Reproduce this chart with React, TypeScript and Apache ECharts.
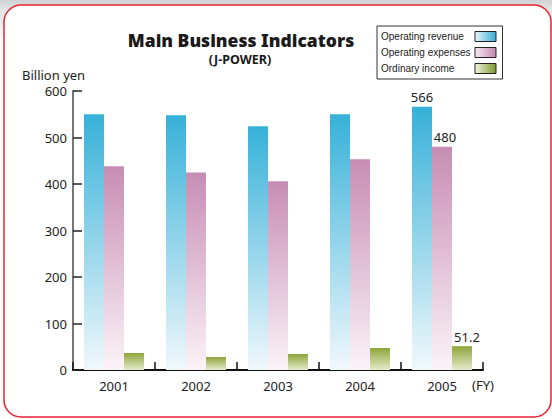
import React, { useEffect, useRef } from "react";
import * as echarts from "echarts";

const categories = ["2001", "2002", "2003", "2004", "2005"];
const seriesNames = ["Operating revenue", "Operating expenses", "Ordinary income"];
const operatingRevenue = [550, 548, 524, 550, 566];
const operatingExpenses = [438, 425, 406, 453, 480];
const ordinaryIncome = [36.6, 28.0, 34.4, 47.3, 51.2];
const yTicks = { min: 0, max: 600, interval: 100 };
const labelledIndex = 4;
const labelTexts = ["566", "480", "51.2"];

const FONT = "'Noto Sans', 'DejaVu Sans', sans-serif";
const LEGEND_FONT = "'Liberation Sans', Arial, sans-serif";

const vGrad = (top: string, bottom: string) =>
  new echarts.graphic.LinearGradient(0, 0, 0, 1, [
    { offset: 0, color: top },
    { offset: 1, color: bottom },
  ]);
const hGrad = (left: string, right: string) =>
  new echarts.graphic.LinearGradient(0, 0, 1, 0, [
    { offset: 0, color: left },
    { offset: 1, color: right },
  ]);

const barColors = [
  vGrad("#36b1d8", "#f1f8fc"),
  vGrad("#c78db4", "#fbf3f7"),
  vGrad("#8ea53a", "#e6ebcb"),
];
const swatchColors = [
  hGrad("#eaf6fb", "#35acd6"),
  hGrad("#f7ecf2", "#c286b0"),
  hGrad("#f2f4df", "#7b982c"),
];

export default function App() {
  const ref = useRef<HTMLDivElement>(null);
  useEffect(() => {
    if (!ref.current) return;
    const chart = echarts.init(ref.current, null, { renderer: "svg" });
    const values = [operatingRevenue, operatingExpenses, ordinaryIncome];
    chart.setOption({
      animation: false,
      backgroundColor: "transparent",
      graphic: [
        {
          type: "rect",
          z: -10,
          shape: { x: 4, y: 5, width: 547, height: 412, r: 17 },
          style: { fill: "#ffffff", stroke: "#e8262f", lineWidth: 1.5 },
        },
      ],
      title: [
        {
          text: "Main Business Indicators",
          left: 241,
          textAlign: "center",
          top: 31,
          padding: 0,
          textStyle: { fontFamily: FONT, fontSize: 17.5, fontWeight: 900, color: "#1a1a1a" },
        },
        {
          text: "(J-POWER)",
          left: 240,
          textAlign: "center",
          top: 53,
          padding: 0,
          textStyle: { fontFamily: FONT, fontSize: 12.5, fontWeight: "bold", color: "#1a1a1a" },
        },
        {
          text: "Billion yen",
          left: 22,
          top: 68,
          padding: 0,
          textStyle: { fontFamily: FONT, fontSize: 13, fontWeight: "normal", color: "#222" },
        },
      ],
      legend: {
        orient: "vertical",
        align: "right",
        left: 377,
        top: 26,
        padding: [4, 6, 4, 4],
        itemGap: 3,
        itemWidth: 21,
        itemHeight: 10,
        backgroundColor: "#ffffff",
        borderColor: "#333",
        borderWidth: 1,
        icon: "rect",
        selectedMode: false,
        itemStyle: { borderColor: "#222", borderWidth: 1 },
        formatter: "{a|{name}}",
        textStyle: {
          fontFamily: LEGEND_FONT,
          fontSize: 10,
          color: "#222",
          lineHeight: 13,
          rich: {
            a: {
              width: 89,
              align: "left",
              fontFamily: LEGEND_FONT,
              fontSize: 10,
              color: "#222",
              lineHeight: 13,
            },
          },
        },
        data: seriesNames.map((n, i) => ({
          name: n,
          itemStyle: { color: swatchColors[i], borderColor: "#222", borderWidth: 1 },
        })),
      },
      grid: { left: 73, right: 69, top: 91, bottom: 49, containLabel: false },
      xAxis: {
        type: "category",
        data: categories,
        boundaryGap: true,
        name: "(FY)",
        nameLocation: "end",
        nameGap: 0,
        nameTextStyle: {
          fontFamily: FONT,
          fontSize: 13,
          color: "#222",
          align: "center",
          verticalAlign: "top",
          padding: [8, 0, 0, 0],
        },
        axisLine: { show: true, lineStyle: { color: "#111", width: 2 } },
        axisTick: { show: true, inside: true, length: 8, lineStyle: { color: "#111", width: 1.5 } },
        axisLabel: { fontFamily: FONT, fontSize: 13, color: "#222", margin: 9 },
        splitLine: { show: false },
      },
      yAxis: {
        type: "value",
        min: yTicks.min,
        max: yTicks.max,
        interval: yTicks.interval,
        axisLine: { show: true, lineStyle: { color: "#777", width: 2 } },
        axisTick: { show: true, inside: true, length: 9, lineStyle: { color: "#222", width: 1.5 } },
        axisLabel: { fontFamily: FONT, fontSize: 13, color: "#222", margin: 6 },
        splitLine: { show: false },
      },
      series: seriesNames.map((n, si) => ({
        name: n,
        type: "bar",
        barWidth: 20,
        barGap: "0%",
        itemStyle: { color: barColors[si] },
        data: values[si].map((v, i) =>
          i === labelledIndex
            ? {
                value: v,
                label: {
                  show: true,
                  position: "top",
                  distance: 3,
                  formatter: labelTexts[si],
                  fontFamily: FONT,
                  fontSize: 13,
                  color: "#222",
                  offset: si === 2 ? [5, 0] : si === 1 ? [3, 0] : [0, 0],
                },
              }
            : v
        ),
      })),
    });
    return () => chart.dispose();
  }, []);
  return (
    <div
      style={{
        position: "absolute",
        left: 0,
        top: 0,
        width: 552,
        height: 419,
        background: "linear-gradient(to bottom, #cfd3d3 0px, #e2e5e5 10px, #ffffff 40px)",
      }}
    >
      <div ref={ref} style={{ width: 552, height: 419 }} />
    </div>
  );
}
